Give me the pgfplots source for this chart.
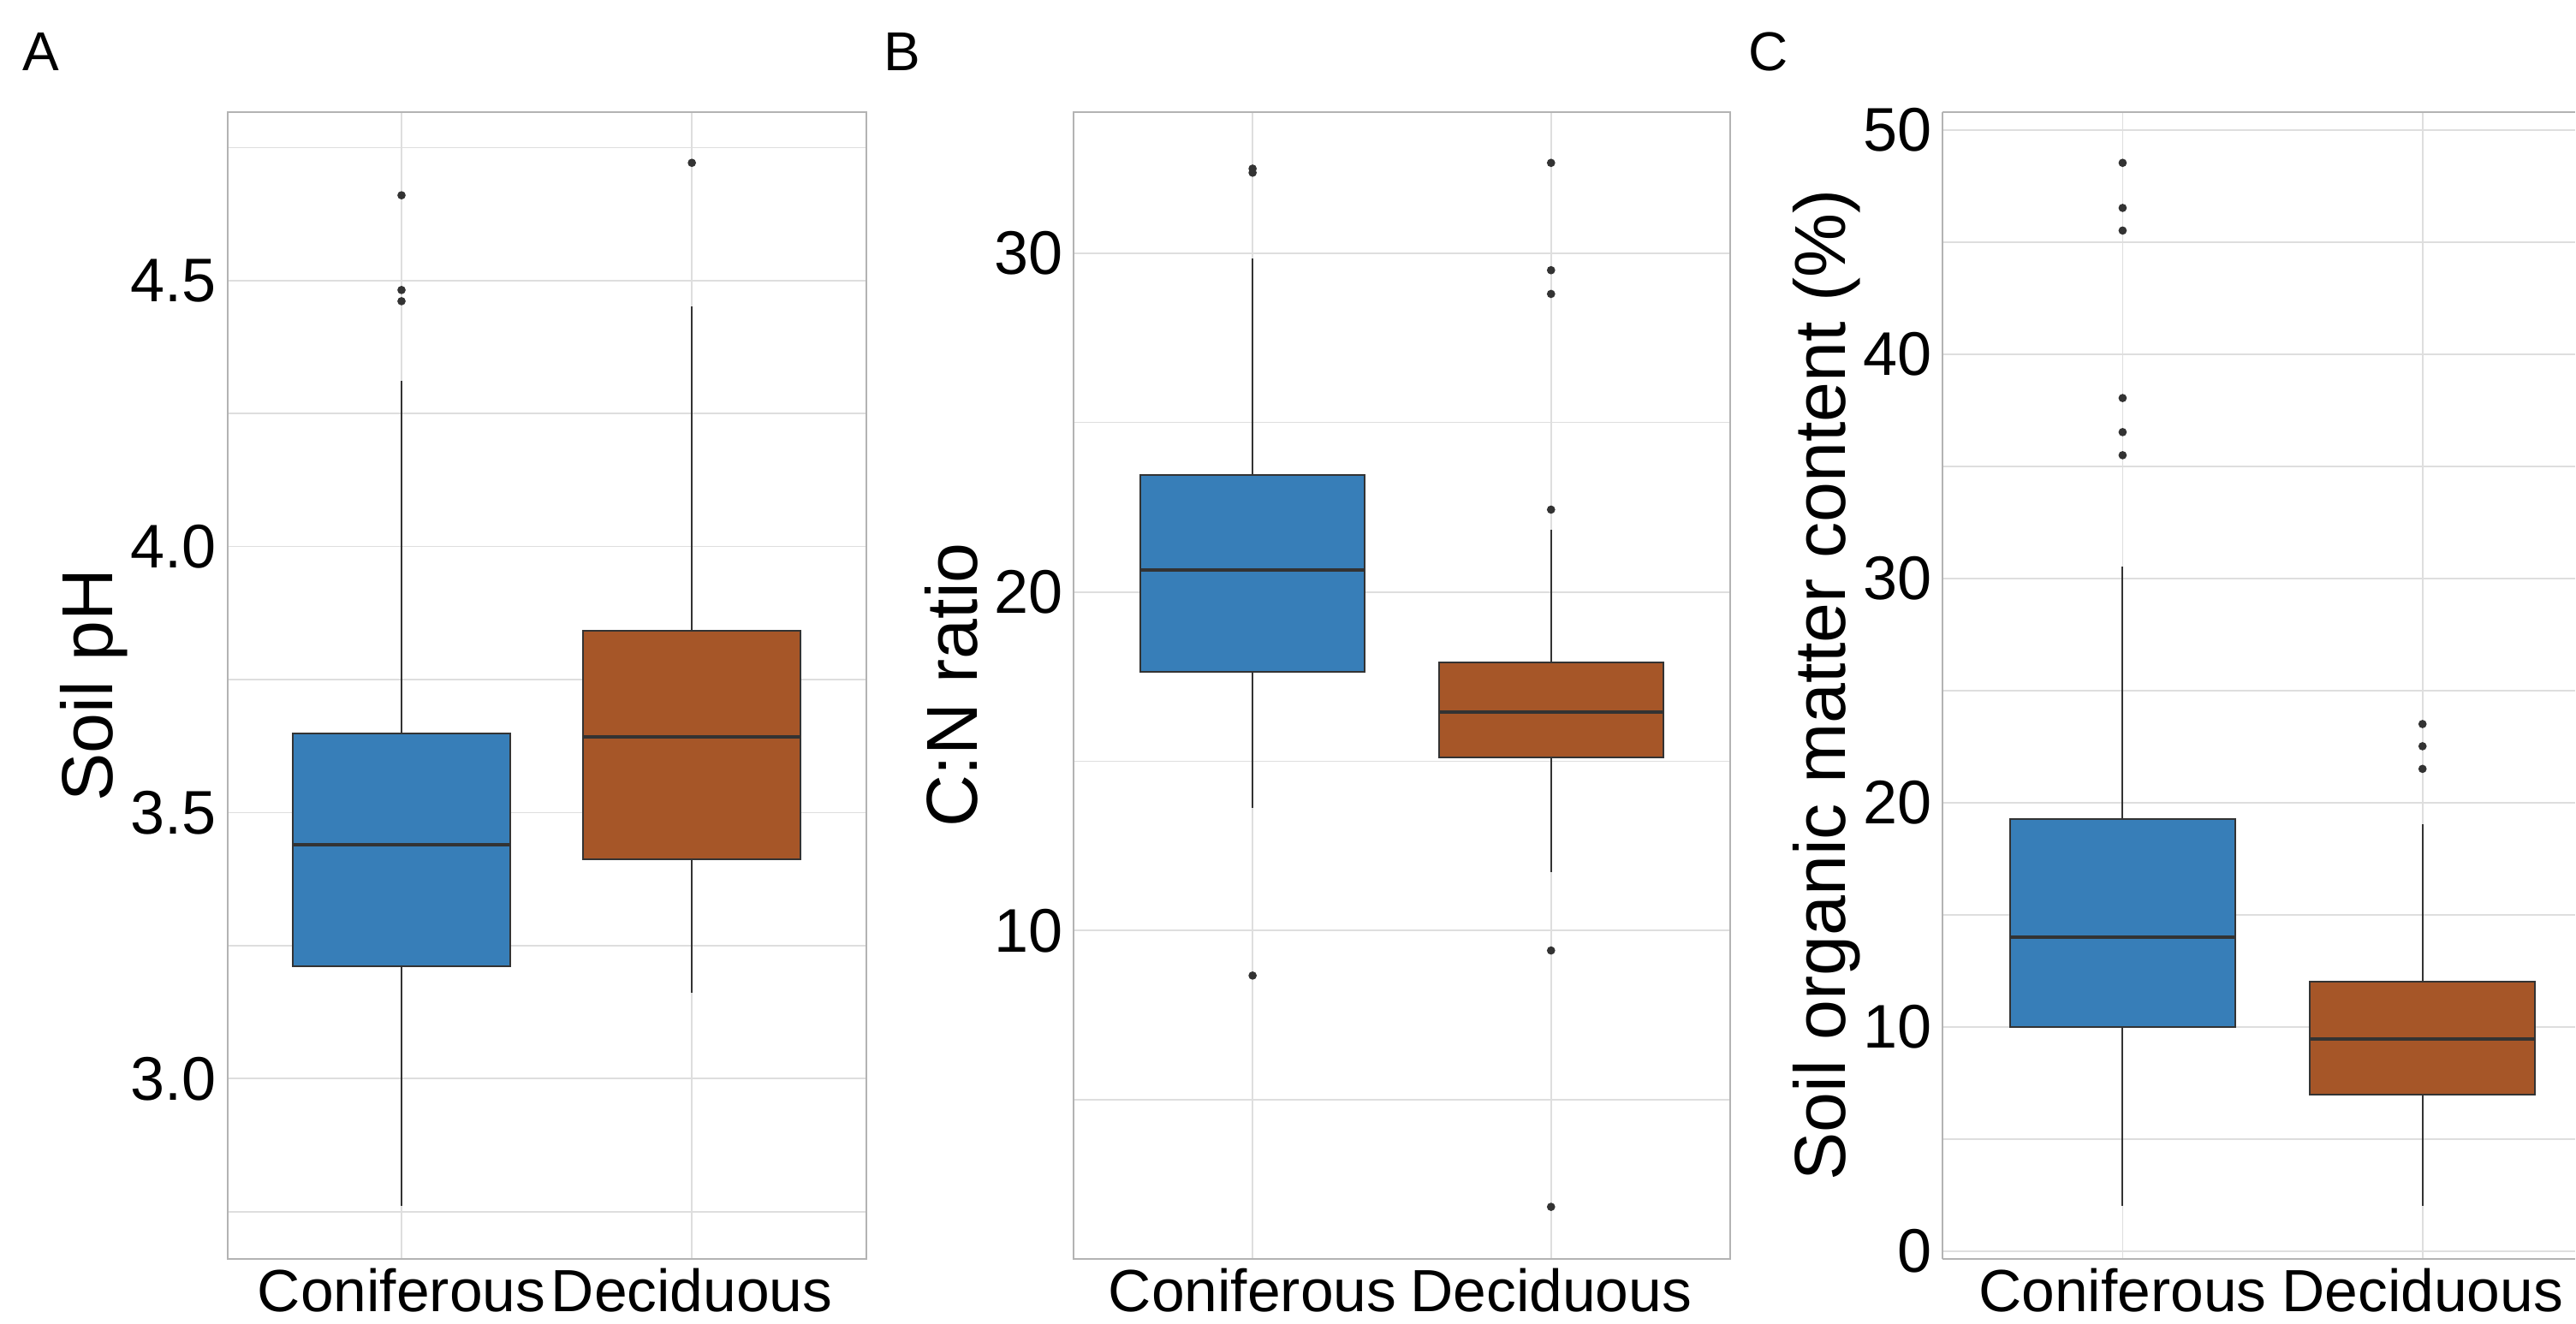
\documentclass[border=0pt]{standalone}
\usepackage{fontspec}
\setmainfont{Liberation Sans}
\usepackage{pgfplots}
\pgfplotsset{compat=1.18}
\usepgfplotslibrary{statistics}
\definecolor{conif}{RGB}{55,126,184}
\definecolor{decid}{RGB}{166,86,40}
\definecolor{boxline}{RGB}{51,51,51}
\definecolor{gridgray}{RGB}{222,222,222}
\definecolor{framegray}{RGB}{179,179,179}

% 1 px of the reference = 0.25pt
\pgfplotsset{
  panel/.style={
    scale only axis, height=335.1pt, anchor=south west,
    xmin=0.4, xmax=2.6, xtick={1,2}, xticklabels={Coniferous,Deciduous},
    tick style={draw=none},
    xmajorgrids, ymajorgrids, yminorgrids,
    major grid style={gridgray, line width=0.45pt},
    minor grid style={gridgray, line width=0.35pt},
    axis line style={framegray, line width=0.5pt},
    tick label style={inner sep=0pt},
    /pgf/number format/assume math mode=true,
    xticklabel style={anchor=north, yshift=-2.75pt,
      font=\fontsize{17.4}{20}\selectfont},
    yticklabel style={anchor=east, xshift=-3pt,
      font=\fontsize{18}{20}\selectfont},
    every axis y label/.style={rotate=90, anchor=base,
      font=\fontsize{21.1}{24}\selectfont},
    boxplot/draw direction=y,
    boxplot/box extend=0.75,
    boxplot/whisker extend=0,
    boxplot/every box/.style={line width=0.5pt},
    boxplot/every whisker/.style={line width=0.5pt},
    boxplot/every median/.style={line width=1.1pt},
  },
  bx/.style={draw=boxline, fill=#1, mark=*, mark size=1pt,
    mark options={draw=boxline, fill=boxline}},
}

\begin{document}
\begin{tikzpicture}

% A: soil pH
\begin{axis}[panel, at={(66.4pt,19pt)}, width=186.6pt,
  ymin=2.662, ymax=4.817,
  ytick={3,3.5,4,4.5}, minor ytick={2.75,3.25,3.75,4.25,4.75},
  yticklabel style={/pgf/number format/.cd, fixed, fixed zerofill, precision=1},
  ylabel={Soil pH},
  ylabel style={at={(axis description cs:-0.1792,0.5)}}]
  \addplot[bx=conif, boxplot prepared={draw position=1,
    lower whisker=2.761, lower quartile=3.211, median=3.440,
    upper quartile=3.649, upper whisker=4.312}]
    table[row sep=\\, y index=0] {y\\ 4.660\\ 4.482\\ 4.461\\};
  \addplot[bx=decid, boxplot prepared={draw position=2,
    lower whisker=3.161, lower quartile=3.413, median=3.642,
    upper quartile=3.842, upper whisker=4.451}]
    table[row sep=\\, y index=0] {y\\ 4.721\\};
\end{axis}

% B: C:N ratio
\begin{axis}[panel, at={(313.6pt,19pt)}, width=191.8pt,
  ymin=0.313, ymax=34.18,
  ytick={10,20,30}, minor ytick={5,15,25},
  ylabel={C:N ratio},
  ylabel style={at={(axis description cs:-0.1468,0.5)}}]
  \addplot[bx=conif, boxplot prepared={draw position=1,
    lower whisker=13.62, lower quartile=17.65, median=20.65,
    upper quartile=23.46, upper whisker=29.85}]
    table[row sep=\\, y index=0] {y\\ 32.38\\ 32.50\\ 8.67\\};
  \addplot[bx=decid, boxplot prepared={draw position=2,
    lower whisker=11.72, lower quartile=15.11, median=16.45,
    upper quartile=17.92, upper whisker=21.83}]
    table[row sep=\\, y index=0] {y\\ 32.67\\ 29.50\\ 28.80\\ 22.43\\ 9.41\\ 1.84\\};
\end{axis}

% C: organic matter (cut at the right edge, as in the source image)
\begin{axis}[panel, at={(567.5pt,19pt)}, width=184.75pt,
  xmax=2.509, separate axis lines, axis x line*=box, axis y line*=left,
  ymin=-0.33, ymax=50.82,
  ytick={0,10,20,30,40,50}, minor ytick={5,15,25,35,45},
  ylabel={Soil organic matter content (\%)},
  ylabel style={at={(axis description cs:-0.1543,0.5)}}]
  \addplot[bx=conif, boxplot prepared={draw position=1,
    lower whisker=2.02, lower quartile=10.0, median=14.01,
    upper quartile=19.28, upper whisker=30.53}]
    table[row sep=\\, y index=0] {y\\ 48.54\\ 46.53\\ 45.52\\ 38.05\\ 36.53\\ 35.50\\};
  \addplot[bx=decid, boxplot prepared={draw position=2,
    lower whisker=2.02, lower quartile=6.99, median=9.47,
    upper quartile=12.01, upper whisker=19.03}]
    table[row sep=\\, y index=0] {y\\ 23.51\\ 22.52\\ 21.51\\};
\end{axis}

\begin{scope}[every node/.style={anchor=base west, inner sep=0pt,
    font=\fontsize{16}{18}\selectfont}]
  \node at (6.5pt,366pt) {A};
  \node at (258pt,366pt) {B};
  \node at (510.6pt,366pt) {C};
  \path (0,0) (752.25pt,386.75pt);
\end{scope}
\end{tikzpicture}
\end{document}
